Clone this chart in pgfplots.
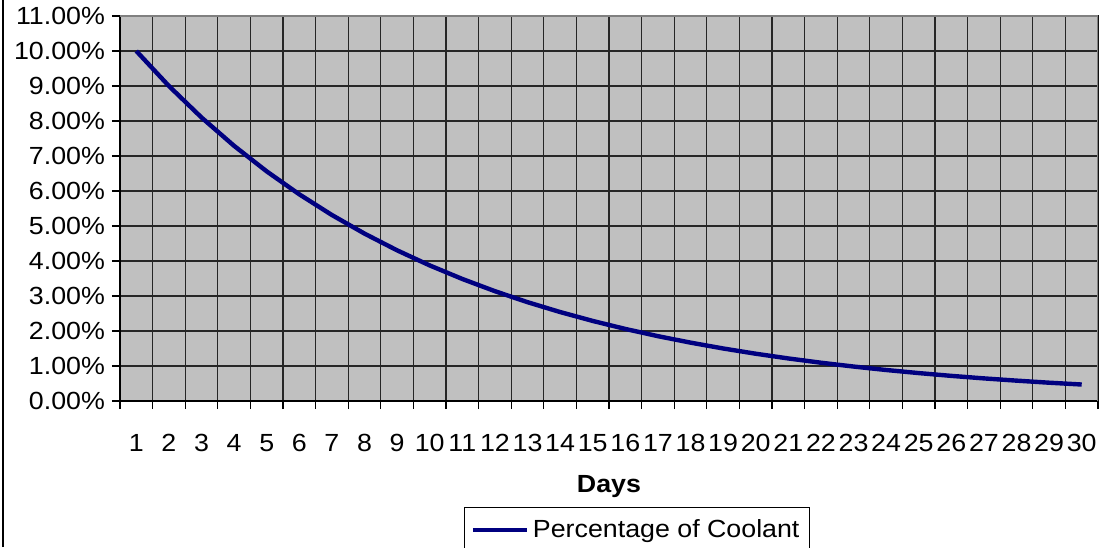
\documentclass[border=0pt]{standalone}
\usepackage{pgfplots}
\pgfplotsset{compat=1.18}
\usepackage{fontspec}
\setmainfont{Liberation Sans}[FakeStretch=1.08]
\definecolor{plotbg}{HTML}{C0C0C0}
\definecolor{navyline}{HTML}{000080}
\begin{document}
\begin{tikzpicture}
\clip (0,0) rectangle (553pt,273.5pt);
\draw[line width=0.6pt] (1.5pt,0) -- (1.5pt,273.5pt);
\begin{axis}[
  at={(60pt,73pt)}, anchor=south west,
  scale only axis, width=489pt, height=192.5pt,
  xmin=0.5, xmax=30.5, ymin=0, ymax=11,
  xtick={1,...,30}, ytick={0,...,11},
  minor xtick={0.5,1.5,...,30.5}, minor ytick={0,...,11},
  major tick length=0pt, minor tick length=4pt, tick align=outside,
  tick pos=left,
  xminorgrids=true, ymajorgrids=true,
  grid style={black!85, line width=0.6pt},
  minor grid style={black!85, line width=0.6pt},
  minor tick style={black, line width=0.6pt},
  axis line style={black, line width=0.6pt},
  axis background/.style={fill=plotbg},
  /pgf/number format/assume math mode=true,
  yticklabel={\pgfmathprintnumber[fixed,fixed zerofill,precision=2]{\tick}\%},
  ticklabel style={font=\fontsize{12.4}{14}\selectfont},
  yticklabel style={anchor=east, xshift=-4pt},
  xticklabel style={anchor=north, yshift=-13pt},
  xlabel={\textbf{Days}},
  xlabel style={at={(axis description cs:0.5,0)}, anchor=center, yshift=-43pt, font=\fontsize{12.4}{14}\selectfont},
  legend style={at={(axis description cs:0.3517,-0.2753)}, anchor=north west, draw=black, line width=0.6pt,
    font=\fontsize{12.4}{14}\selectfont, inner xsep=3pt, inner ysep=4pt},
  legend cell align=left,
  legend image code/.code={\draw[#1, line width=2.2pt] (0pt,0pt) -- (27pt,0pt);},
]
\addplot[navyline, line width=2.2pt, no markers] coordinates {
(1,10.000) (2,9.000) (3,8.100) (4,7.290) (5,6.561) (6,5.905) (7,5.314) (8,4.783)
(9,4.305) (10,3.874) (11,3.487) (12,3.138) (13,2.824) (14,2.542) (15,2.288)
(16,2.059) (17,1.853) (18,1.668) (19,1.501) (20,1.351) (21,1.216) (22,1.094)
(23,0.985) (24,0.886) (25,0.798) (26,0.718) (27,0.646) (28,0.582) (29,0.523) (30,0.471)
};
\addlegendentry{Percentage of Coolant}
\draw[gray, line width=0.9pt] (rel axis cs:0,1) -- (rel axis cs:1,1) -- (rel axis cs:1,0);
\end{axis}
\end{tikzpicture}
\end{document}
